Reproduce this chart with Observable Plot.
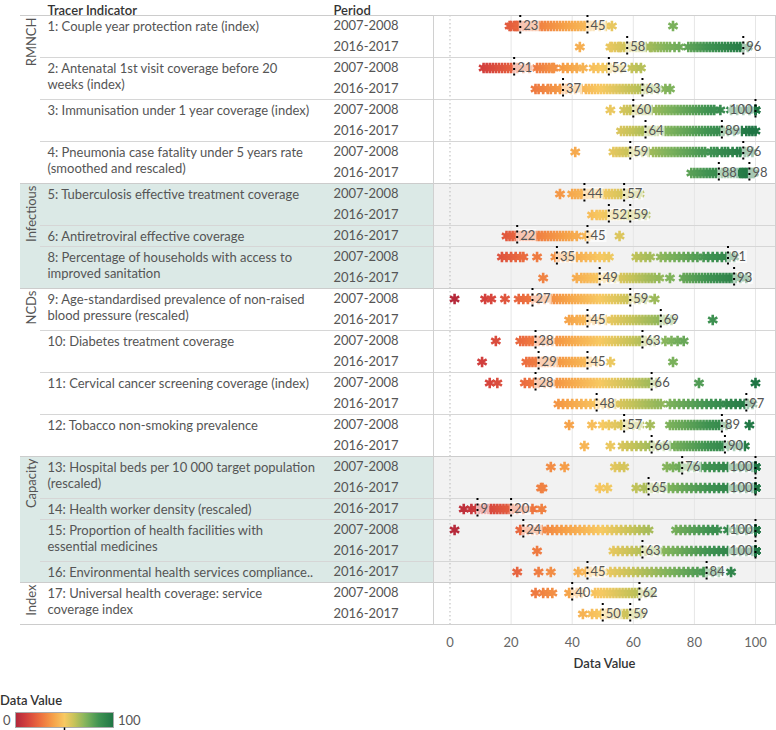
<!DOCTYPE html>
<html><head><meta charset="utf-8">
<script src="https://cdn.jsdelivr.net/npm/d3@7"></script>
<script src="https://cdn.jsdelivr.net/npm/@observablehq/plot@0.6"></script>
<style>
body{margin:0;background:#fff;font-family:Lato,"Open Sans",sans-serif;}
#chart{width:776px;height:730px;overflow:hidden;}
svg{display:block;}
</style></head><body><div id="chart"></div>
<script>
// ---------- categories ----------
const shadedGroups = ["Infectious", "Capacity"];
const indicatorNames = [
  "1: Couple year protection rate (index)",
  "2: Antenatal 1st visit coverage before 20\nweeks (index)",
  "3: Immunisation under 1 year coverage (index)",
  "4: Pneumonia case fatality under 5 years rate\n(smoothed and rescaled)",
  "5: Tuberculosis effective treatment coverage",
  "6: Antiretroviral effective coverage",
  "8: Percentage of households with access to\nimproved sanitation",
  "9: Age-standardised prevalence of non-raised\nblood pressure (rescaled)",
  "10: Diabetes treatment coverage",
  "11: Cervical cancer screening coverage (index)",
  "12: Tobacco non-smoking prevalence",
  "13: Hospital beds per 10 000 target population\n(rescaled)",
  "14: Health worker density (rescaled)",
  "15: Proportion of health facilities with\nessential medicines",
  "16: Environmental health services compliance..",
  "17: Universal health coverage: service\ncoverage index"
];
const indicatorGroups = ["RMNCH","RMNCH","RMNCH","RMNCH","Infectious","Infectious","Infectious",
  "NCDs","NCDs","NCDs","NCDs","Capacity","Capacity","Capacity","Capacity","Index"];
const P1 = "2007-2008", P2 = "2016-2017";
const indicatorPeriods = [[P1,P2],[P1,P2],[P1,P2],[P1,P2],[P1,P2],[P2],[P1,P2],[P1,P2],
  [P1,P2],[P1,P2],[P1,P2],[P1,P2],[P2],[P1,P2],[P2],[P1,P2]];
const xTicks = [0, 20, 40, 60, 80, 100];

// ---------- quartile labels (row order) ----------
const q1 = [23,58,21,37,60,64,59,88,44,52,22,35,49,27,45,28,29,28,48,57,66,76,65,9,24,63,45,40,50];
const q3 = [45,96,52,63,100,89,96,98,57,59,45,91,93,59,69,63,45,66,97,89,90,100,100,20,100,100,84,62,59];

// ---------- district values per row ----------
const ind01_2007 = [19.5,20,21,21.5,22,22.5,23,24,25,26,27,28,29,30,31,32,33,34,35,36,37,38,39,40,41,42,43,44,45,46,47,49,51,53,73];
const ind01_2016 = [42.5,52.5,53,54,55,55.5,56,57,58,59,60,61,62,63,64,65.5,66,67,68,69,70,71,72,73.5,75,78,79,80,81,82,83,84,85,86,87,88,89,90,91,92,93,94,95,96,97.5];
const ind02_2007 = [11,12,13,14,15,16,17,18,19,20,21,22,24,26,28.5,29.5,30.5,31.5,32.5,33.5,34,37,38.5,40,41.5,43.5,47,48.5,50,51.5,52.5,54,56,59.5,61,62.5];
const ind02_2016 = [28,29,30.5,32,33,34.5,36,37,38,39.5,41,43,44.5,45.5,46.5,47.5,48.5,49.5,50.5,51.5,52.5,53.5,54.5,55.5,56.5,57.5,58.5,59.5,60.5,61.5,62.5,63.5,64.5,66,68,70.5,72];
const ind03_2007 = [52.5,57,58,59,60,61,62,63,64,65,66,67.5,68.5,69.5,70.5,71.5,72.5,73.5,74.5,75.5,76.5,77.5,78.5,79.5,80.5,81.5,82.5,83.5,84.5,85.5,86.5,88.5,92,94,96,98,100,100,100];
const ind03_2016 = [56,57,58,59,60,61,62,63,64,65,66,67,68,69.5,70.5,71.5,72.5,73.5,74.5,75.5,76.5,77.5,78.5,79.5,80.5,81.5,82.5,83.5,84.5,85.5,86.5,87.5,88.5,89.5,91,93,95.5,97,98,99,100];
const ind04_2007 = [41,53.5,54.5,55.5,56.5,57.5,58.5,59.5,61,63,65,66.5,67.5,68.5,69.5,70.5,71.5,72.5,73.5,74.5,75.5,76.5,77.5,78.5,79.5,80.5,81.5,82.5,83.5,85.5,86.5,87.5,89,90,91,92.5,94,95,96.5,97.5,99];
const ind04_2016 = [79,80,81,82,83,84,85,86,87,88,89,90,91,92,93,94,95,95.5,96,96.5,97,97.5,98,98.5,99,99.5];
const ind05_2007 = [36,40,41,42,43,44,45,46,47,48,49,50,51,52,53,54,55,56,57,58,60,62];
const ind05_2016 = [46.5,48,49,50,51,52,53,54,55,56,57,58,59,60,62,64];
const ind06_2016 = [18.5,19.5,20.5,21.5,22,23,24,25,26,27,28,29,30,31,32,33,34,35,36,37,38,39,40,41.5,44.5,45.5,55.5];
const ind08_2007 = [17,18.5,20,21.5,23,24,28.5,34.5,35.5,37,38.5,40,41.5,43,44.5,46,47.5,49,50.5,52,61,62.5,64,65.5,69,70.5,72,73.5,75,76.5,78,79.5,81,83,84.5,86,87.5,89,90.5,91.5,93];
const ind08_2016 = [30.5,41.5,43,44,45,46,47,48,49,50.5,52,54,56,57,58,59,60,61,62,63,64,65,66,67,68.5,72,76.5,77.5,78.5,79.5,80.5,81.5,82.5,83.5,84.5,85.5,86.5,87.5,88.5,89.5,90.5,91.5,92.5,93.5,95,97];
const ind09_2007 = [1.5,11.5,13.5,18,22.5,24,25.5,27,29,31,33,34,35,36,37,38,39,40,41,42,43,44,45,46,47,48,49,50,51,52,53,54,55,56,57,58,59,60.5,62,64,67];
const ind09_2016 = [39,40,41.5,42.5,43.5,44.5,45.5,47,49,51,53,54,55,56,57,58,59,60,61,62,63,64,65,66,67,68,69,70,71,72.5,86];
const ind10_2007 = [15,23,24,25,26,27,28,29,30.5,32,33.5,35,36,37,38,39,40,41,42,43,44,45,46,47,48,49,50,51,52,53,54,55,56,57,58,59,60,61,62,63,64,65.5,67,70.5,72.5,74.5,76.5];
const ind10_2016 = [10.5,25,26,27,28,29,30,31,32,33,34,35,36,37,38,39,40,41,42,43,44,45,46,48,52.5,73];
const ind11_2007 = [13,15.5,24.5,26,27.5,28,29,31,33,35,36,37,38,39,40,41,42,43,44,45,46,47,48,49,50,51,52,53,54,55,56,57,58,59,60,61,62,63,64,65,66,67.5,81.5,100];
const ind11_2016 = [35.5,37,38.5,40,41.5,43,44.5,46,47.5,48.5,50,52,54,56,57,58,59,60,61,62,63,64,65,66,67,68,69,72,73.5,75,76.5,78,79.5,81,82.5,84,85.5,87,88.5,90.5,92,93.5,95,96.5,97.5,99];
const ind12_2007 = [39,46.5,50,52,54,56,57,58,60,62,65.5,72,73,74,75,76,77,78,79,80,81,82,83,84,85,86,87,88,89,90.5,98];
const ind12_2016 = [44,52.5,56.5,58,59.5,61,62.5,64,65.5,66.5,68,70,72,73.5,74.5,75.5,76.5,77.5,78.5,79.5,80.5,81.5,82.5,83.5,84.5,85.5,86.5,87.5,88.5,89.5,91,93,95,96.5];
const ind13_2007 = [33,37.5,54,55.5,57,71,73,75,76,78,80,82,83.5,85,86.5,88,89.5,91,93,95,97,99,100,100,100,100,100,100];
const ind13_2016 = [29.8,30.3,49,51.5,61,63.5,64.5,66,68,70,71.5,73,74.5,76,77.5,79,80.5,82,83.5,85,86.5,88,89.5,91,93,95,97,99,100,100,100,100,100,100,100];
const ind14_2016 = [4.5,7,8.5,9.5,10.5,11.5,12.5,13.5,14.5,15.5,16.5,17.5,18.5,19.5,20.5,22,24,27,30];
const ind15_2007 = [1.5,23,24,25.5,27,28.5,30,32,33.5,35,36.5,38,39.5,41,42.5,44,45.5,47,48.5,50,51.5,53,54.5,56,57.5,59,60.5,62,63.5,65,74,75.5,77,78.5,80,81.5,83,84.5,86,87.5,91,94,97,100,100,100,100,100,100,100,100,100];
const ind15_2016 = [28.5,53.5,55,56.5,58,59.5,61,62.5,64,66,68,70,71.5,73,74.5,76,77.5,79,80.5,82,83.5,85,86.5,88,89.5,91,93,95,97,99,100,100,100,100,100,100,100,100,100,100,100,100,100];
const ind16_2016 = [22,29,33,42,44.5,46,48,50,52.5,54,55.5,57,58.5,60,61.5,63,64.5,66,67.5,69,70.5,72,73.5,75,76.5,78,79.5,81,83,84,86,88,92];
const ind17_2007 = [28,30.5,32,33.5,39,40,41.5,43,47.5,48.5,49.5,50.5,51.5,52.5,53.5,54.5,55.5,56.5,57.5,58.5,59.5,60.5,61.5,62.5,64,66];
const ind17_2016 = [43.5,46.5,48,49.5,50,51,52,53,54,55,56,57,58,59,60,61,62.5];

const rowValues = [ind01_2007, ind01_2016, ind02_2007, ind02_2016, ind03_2007, ind03_2016,
  ind04_2007, ind04_2016, ind05_2007, ind05_2016, ind06_2016, ind08_2007, ind08_2016,
  ind09_2007, ind09_2016, ind10_2007, ind10_2016, ind11_2007, ind11_2016, ind12_2007, ind12_2016,
  ind13_2007, ind13_2016, ind14_2016, ind15_2007, ind15_2016, ind16_2016, ind17_2007, ind17_2016];

// ---------- derived tables ----------
const rows = [];
const indicators = [];
indicatorNames.forEach((name, k) => {
  indicators.push({name, group: indicatorGroups[k], start: rows.length, end: rows.length + indicatorPeriods[k].length});
  indicatorPeriods[k].forEach(p => rows.push({i: rows.length, ind: k, group: indicatorGroups[k], period: p}));
});
const N = rows.length;
const groups = [];
indicators.forEach(d => {
  const last = groups[groups.length - 1];
  if (last && last.group === d.group) last.end = d.end;
  else groups.push({group: d.group, start: d.start, end: d.end});
});
const groupSeps = groups.map(g => ({pos: g.start})).concat([{pos: N}]);
const indSeps = indicators.filter(d => !groups.some(g => g.start === d.start)).map(d => ({pos: d.start}));
const shadeSpans = groups.filter(g => shadedGroups.includes(g.group));
const points = rows.flatMap((r, i) => rowValues[i].map(v => ({row: i, v})));
const labels = rows.flatMap((r, i) => [{row: i, v: q1[i]}, {row: i, v: q3[i]}]);
labels.forEach(d => { d.end = d.v === 100; d.n = String(d.v).length; });

const X0 = -5.4, X1 = 106.55;
const DIG = 7.3;
const boxMarks = [1, 2, 3].map(n => Plot.rect(labels.filter(d => !d.end && d.n === n), {
  x1: "v", x2: "v", y1: "row", y2: d => d.row + 1, insetTop: 4, insetBottom: 4,
  insetLeft: -1, insetRight: -(n * DIG + 5), fill: "white", fillOpacity: 0.6
}));
boxMarks.push(Plot.rect(labels.filter(d => d.end), {
  x1: "v", x2: "v", y1: "row", y2: d => d.row + 1, insetTop: 4, insetBottom: 4,
  insetLeft: -(3 * DIG + 5), insetRight: 1, fill: "white", fillOpacity: 0.6
}));

const chart = Plot.plot({
  width: 776, height: 690,
  marginLeft: 433, marginRight: 1, marginTop: 15, marginBottom: 66,
  style: {fontFamily: "Lato, 'Open Sans', sans-serif", fontSize: "13px", color: "#666", background: "white"},
  x: {domain: [X0, X1], ticks: xTicks, tickSize: 0, tickPadding: 13, label: null},
  y: {domain: [0, N], reverse: true, axis: null},
  color: {type: "linear", domain: [0, 12, 25, 38, 50, 60, 72, 85, 100],
    range: ["#b1263b", "#d5423d", "#ec6e3f", "#f6a048", "#f7c962", "#c6c35a", "#7fb35c", "#409352", "#1f7544"]},
  marks: [
    Plot.rect(shadeSpans, {x1: () => X0, x2: () => X1, y1: "start", y2: "end", fill: "#f2f2f2"}),
    Plot.rect(shadeSpans, {x1: () => X0, x2: () => X0, y1: "start", y2: "end", insetLeft: -413, fill: "#dbe9e6"}),
    Plot.ruleX(xTicks.filter(d => d > 0), {stroke: "#e6e6e6"}),
    Plot.ruleX(xTicks.filter(d => d === 0), {stroke: "#b8b8b8", strokeDasharray: "1.5,2.5"}),
    Plot.ruleY(indSeps, {y: "pos", insetLeft: -393, stroke: "#d6d6d6"}),
    Plot.ruleY(groupSeps, {y: "pos", insetLeft: -413, stroke: "#cccccc"}),
    Plot.frame({stroke: "#d0d0d0"}),
    Plot.dot(points, {x: "v", y: d => d.row + 0.5, symbol: "asterisk", r: 5, stroke: "v", strokeWidth: 2.6}),
    ...boxMarks,
    Plot.text(labels.filter(d => !d.end), {x: "v", y: d => d.row + 0.5, text: d => String(d.v), textAnchor: "start", dx: 3, fill: "#555"}),
    Plot.text(labels.filter(d => d.end), {x: "v", y: d => d.row + 0.5, text: d => String(d.v), textAnchor: "end", dx: -3, fill: "#555"}),
    Plot.ruleX(labels, {x: "v", y1: "row", y2: d => d.row + 1, stroke: "#000", strokeWidth: 2, strokeDasharray: "2,3.5"}),
    // table columns
    Plot.text(indicators, {frameAnchor: "left", y: "start", text: "name", textAnchor: "start", lineAnchor: "top", lineHeight: 1.23, dx: -386, dy: 4.5, fill: "#555"}),
    Plot.text(rows, {frameAnchor: "left", y: d => d.i + 0.5, text: "period", textAnchor: "start", dx: -100, fill: "#555"}),
    Plot.text(groups, {frameAnchor: "left", y: "start", text: "group", rotate: -90, textAnchor: "end", dx: -402, dy: 2, fill: "#555"}),
    Plot.text(["Tracer Indicator"], {frameAnchor: "top-left", text: d => d, textAnchor: "start", lineAnchor: "bottom", dx: -386, dy: -1, fill: "#333", fontWeight: 600}),
    Plot.text(["Period"], {frameAnchor: "top-left", text: d => d, textAnchor: "start", lineAnchor: "bottom", dx: -100, dy: -1, fill: "#333", fontWeight: 600}),
    Plot.text(["Data Value"], {frameAnchor: "bottom", text: d => d, dy: 43, fill: "#333", fontWeight: 600})
  ]
});
document.getElementById("chart").appendChild(chart);

// ---------- legend ----------
const colorScale = chart.scale("color");
const leg = d3.create("svg").attr("width", 776).attr("height", 40)
  .style("font-family", "Lato, 'Open Sans', sans-serif").style("font-size", "13px");
const grad = leg.append("defs").append("linearGradient").attr("id", "lg");
d3.range(0, 101, 5).forEach(v => grad.append("stop").attr("offset", v + "%").attr("stop-color", colorScale.apply(v)));
leg.append("text").attr("x", 0).attr("y", 14.5).attr("fill", "#333").attr("font-weight", 600).text("Data Value");
leg.append("text").attr("x", 3).attr("y", 34.5).attr("fill", "#555").text("0");
leg.append("rect").attr("x", 15.5).attr("y", 22.5).attr("width", 98).attr("height", 15)
  .attr("fill", "url(#lg)").attr("stroke", "#aaa");
leg.append("text").attr("x", 118).attr("y", 34.5).attr("fill", "#555").text("100");
leg.append("line").attr("x1", 64.5).attr("x2", 64.5).attr("y1", 37.5).attr("y2", 41).attr("stroke", "#000").attr("stroke-width", 1.5);
document.getElementById("chart").appendChild(leg.node());
</script></body></html>
